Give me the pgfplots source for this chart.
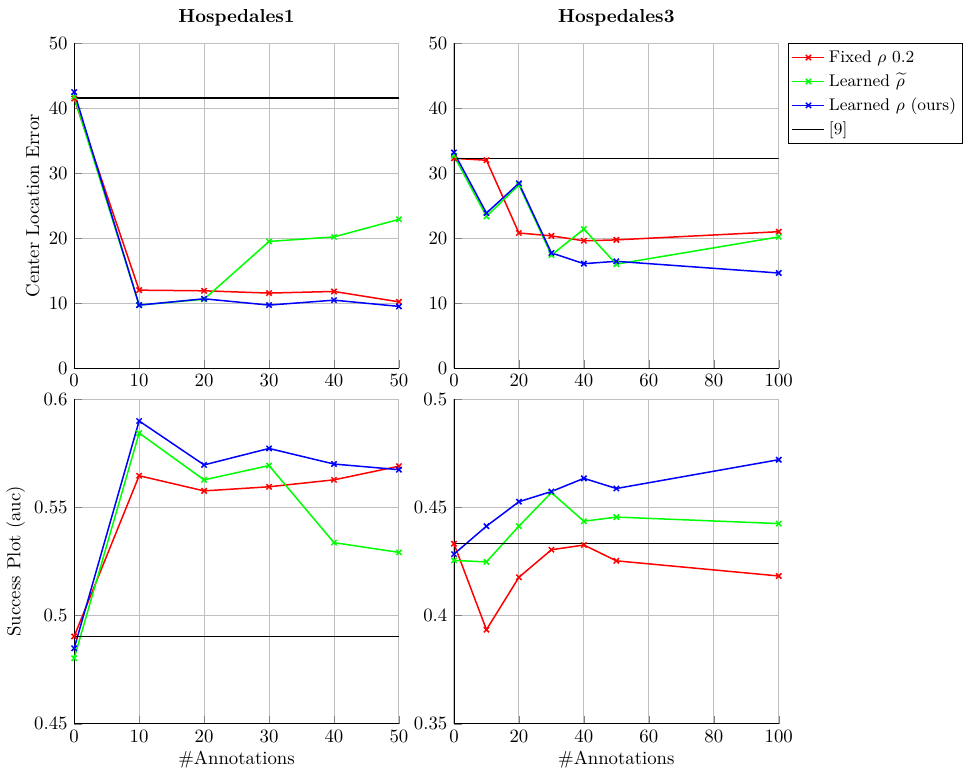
\documentclass[border=0pt]{standalone}
\usepackage{pgfplots}
\pgfplotsset{compat=1.18}
\usepgfplotslibrary{groupplots}
\begin{document}
\begin{tikzpicture}
\begin{groupplot}[
  group style={group size=2 by 2, horizontal sep=29.3pt, vertical sep=16.5pt},
  width=173pt, height=173pt, scale only axis,
  axis x line*=bottom, axis y line*=left, axis line style={-},
  grid=major, grid style={gray!50, line width=0.5pt},
  tick align=inside,
  ylabel shift=-2pt, xlabel shift=-2.5pt,
  title style={inner ysep=5pt, yshift=-2pt},
  every axis plot/.append style={thick, mark=x, mark size=2pt, mark options={solid}},
  legend cell align=left,
]
% top-left
\nextgroupplot[title={\textbf{Hospedales1}}, xmin=0, xmax=50, ymin=0, ymax=50,
  xtick={0,10,20,30,40,50}, ytick={0,10,20,30,40,50}, ylabel={Center Location Error}]
\addplot[red, thick] coordinates {(0,41.5) (10,12.0) (20,11.9) (30,11.55) (40,11.8) (50,10.2)};
\addplot[green, thick] coordinates {(0,41.8) (10,9.7) (20,10.6) (30,19.5) (40,20.2) (50,22.9)};
\addplot[blue, thick] coordinates {(0,42.5) (10,9.7) (20,10.67) (30,9.7) (40,10.46) (50,9.5)};
\addplot[black, thick, mark=none] coordinates {(0,41.55) (50,41.55)};
% top-right
\nextgroupplot[title={\textbf{Hospedales3}}, xmin=0, xmax=100, ymin=0, ymax=50,
  xtick={0,20,40,60,80,100}, ytick={0,10,20,30,40,50},
  legend style={at={(1.03,1)}, anchor=north west, draw=black, font=\small,
    inner xsep=1.5pt, inner ysep=1pt,
    nodes={inner xsep=2pt, inner ysep=2.6pt, text height=1.5ex, text depth=.25ex}}]
\addplot[red, thick] coordinates {(0,32.3) (10,32.0) (20,20.8) (30,20.36) (40,19.6) (50,19.74) (100,21.0)};
\addlegendentry{Fixed $\rho$ 0.2}
\addplot[green, thick] coordinates {(0,32.7) (10,23.35) (20,28.2) (30,17.4) (40,21.4) (50,16.0) (100,20.2)};
\addlegendentry{Learned $\widetilde{\rho}$}
\addplot[blue, thick] coordinates {(0,33.2) (10,23.87) (20,28.45) (30,17.73) (40,16.08) (50,16.44) (100,14.64)};
\addlegendentry{Learned $\rho$ (ours)}
\addplot[black, thick, mark=none] coordinates {(0,32.27) (100,32.27)};
\addlegendentry{[9]}
% bottom-left
\nextgroupplot[xmin=0, xmax=50, ymin=0.45, ymax=0.6,
  xtick={0,10,20,30,40,50}, ytick={0.45,0.5,0.55,0.6},
  ylabel={Success Plot (auc)}, xlabel={\#Annotations},
  yticklabel style={/pgf/number format/fixed, /pgf/number format/precision=2}]
\addplot[red, thick] coordinates {(0,0.4904) (10,0.5646) (20,0.5576) (30,0.5595) (40,0.5627) (50,0.5690)};
\addplot[green, thick] coordinates {(0,0.4803) (10,0.5843) (20,0.5627) (30,0.5693) (40,0.5337) (50,0.5292)};
\addplot[blue, thick] coordinates {(0,0.4849) (10,0.5899) (20,0.5696) (30,0.5772) (40,0.5700) (50,0.5674)};
\addplot[black, thick, mark=none] coordinates {(0,0.4904) (50,0.4904)};
% bottom-right
\nextgroupplot[xmin=0, xmax=100, ymin=0.35, ymax=0.5,
  xtick={0,20,40,60,80,100}, ytick={0.35,0.4,0.45,0.5},
  xlabel={\#Annotations},
  yticklabel style={/pgf/number format/fixed, /pgf/number format/precision=2}]
\addplot[red, thick] coordinates {(0,0.4332) (10,0.3935) (20,0.4177) (30,0.4304) (40,0.4326) (50,0.4253) (100,0.4183)};
\addplot[green, thick] coordinates {(0,0.4255) (10,0.4248) (20,0.4413) (30,0.4568) (40,0.4436) (50,0.4455) (100,0.4425)};
\addplot[blue, thick] coordinates {(0,0.4284) (10,0.4413) (20,0.4526) (30,0.4573) (40,0.4634) (50,0.4587) (100,0.4720)};
\addplot[black, thick, mark=none] coordinates {(0,0.4332) (100,0.4332)};
\end{groupplot}
\end{tikzpicture}
\end{document}
